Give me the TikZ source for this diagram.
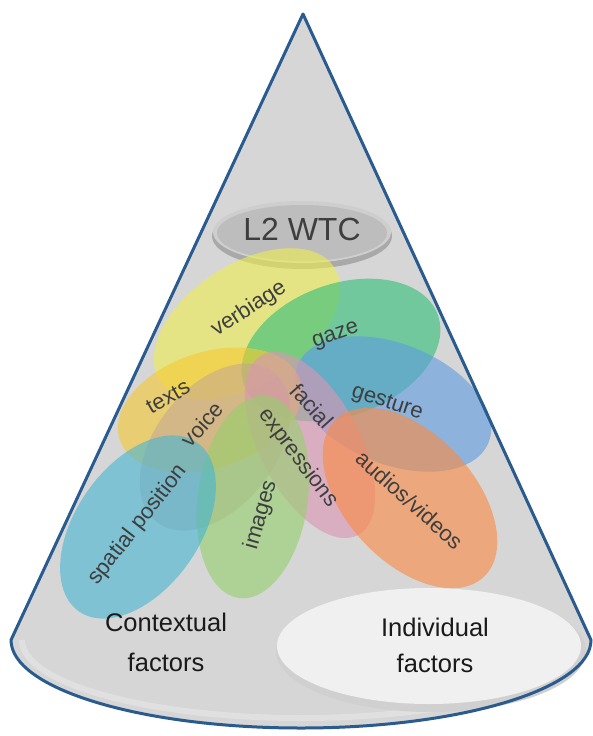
\documentclass[tikz,border=0pt]{standalone}
\usepackage{fontspec}
\setmainfont{Liberation Sans}
\definecolor{conegray}{HTML}{D6D6D6}
\definecolor{coneblue}{HTML}{2A5B8F}
\definecolor{labelgray}{HTML}{3E3E3E}
\definecolor{textdark}{HTML}{1A1A1A}
\definecolor{cverb}{HTML}{F0EE50}
\definecolor{cgaze}{HTML}{2FBF78}
\definecolor{cgest}{HTML}{5D9BE0}
\definecolor{caudio}{HTML}{FB8A40}
\definecolor{ctexts}{HTML}{F7C832}
\definecolor{cvoice}{HTML}{BFA29A}
\definecolor{cfacial}{HTML}{DD94B4}
\definecolor{cimages}{HTML}{94D06C}
\definecolor{cspatial}{HTML}{44B6D4}
\definecolor{rimgray}{HTML}{A9A9A9}
\definecolor{discgray}{HTML}{BDBDBD}
\definecolor{indrim}{HTML}{D0D0D0}
\definecolor{indface}{HTML}{F0F0F0}
\begin{document}
\begin{tikzpicture}[x=1pt,y=-1pt,
  lbl/.style={text=labelgray, font=\fontsize{22}{24}\selectfont, inner sep=0pt},
  big/.style={text=textdark, font=\fontsize{25.5}{28}\selectfont, inner sep=0pt},
  blob/.style={opacity=0.6}]
\useasboundingbox (0,0) rectangle (593,736);
\fill[white] (0,0) rectangle (593,736);
% cone body
\fill[conegray] (303,14) -- (11,640) arc[start angle=180,end angle=360,x radius=290pt,y radius=88pt] -- cycle;
% lighter bottom rim
\draw[white, opacity=0.25, line width=6pt] (22,640) arc[start angle=180,end angle=360,x radius=279pt,y radius=78pt];
% L2 WTC disc
\fill[rimgray] (302,236) ellipse [x radius=90pt, y radius=33pt];
\fill[discgray!75!white] (302,232) ellipse [x radius=89pt, y radius=31pt];
\fill[discgray] (302,233) ellipse [x radius=85pt, y radius=28pt];
\node[text=labelgray, font=\fontsize{32}{34}\selectfont, inner sep=0pt] (wtc) at (302,229) {L2 WTC};
% coloured ellipses
\fill[blob, cverb, rotate around={33:(247,324)}] (247,324) ellipse [x radius=104pt, y radius=60pt];
\fill[blob, cgaze, rotate around={20:(341,350)}] (341,350) ellipse [x radius=103pt, y radius=66pt];
\fill[blob, cgest, rotate around={-22:(393,404)}] (393,404) ellipse [x radius=103pt, y radius=60pt];
\fill[blob, ctexts, rotate around={18:(210,410)}] (210,410) ellipse [x radius=95pt, y radius=58pt];
\fill[cvoice, opacity=0.5, rotate around={52:(215,447)}] (215,447) ellipse [x radius=95pt, y radius=60pt];
\fill[blob, cfacial, rotate around={-62:(310,445)}] (310,445) ellipse [x radius=102pt, y radius=50pt];
\fill[blob, cimages, rotate around={82:(253,497)}] (253,497) ellipse [x radius=102pt, y radius=55pt];
\fill[blob, cspatial, rotate around={55:(138,527)}] (138,527) ellipse [x radius=103pt, y radius=62pt];
\fill[blob, caudio, rotate around={-47:(410,498)}] (410,498) ellipse [x radius=108pt, y radius=64pt];
% labels
\node[lbl, rotate=33] (verbiage) at (249,309) {verbiage};
\node[lbl, rotate=19] (gaze) at (336,336) {gaze};
\node[lbl, rotate=-18] (gesture) at (387,403) {gesture};
\node[lbl, rotate=30] (texts) at (168,397) {texts};
\node[lbl, rotate=48] (voice) at (202,424) {voice};
\node[lbl, rotate=-48] (facial) at (312,406) {facial};
\node[lbl, rotate=-53] (expr) at (298,458) {expressions};
\node[lbl, rotate=74] (images) at (261,515) {images};
\node[lbl, rotate=-42] (audio) at (410,500) {audios/videos};
\node[lbl, rotate=52] (spatial) at (138,525) {spatial position};
% individual factors disc
\fill[indrim] (431,651) ellipse [x radius=155pt, y radius=61pt];
\fill[indface] (429,646) ellipse [x radius=152pt, y radius=58pt];
\node[big] (ctx1) at (166,622) {Contextual};
\node[big] (ctx2) at (166,662) {factors};
\node[big] (ind1) at (435,627) {Individual};
\node[big] (ind2) at (435,663) {factors};
% cone outline
\draw[coneblue, line width=3pt, line join=round] (303,14) -- (11,640) arc[start angle=180,end angle=360,x radius=290pt,y radius=88pt] -- cycle;
\end{tikzpicture}
\end{document}
